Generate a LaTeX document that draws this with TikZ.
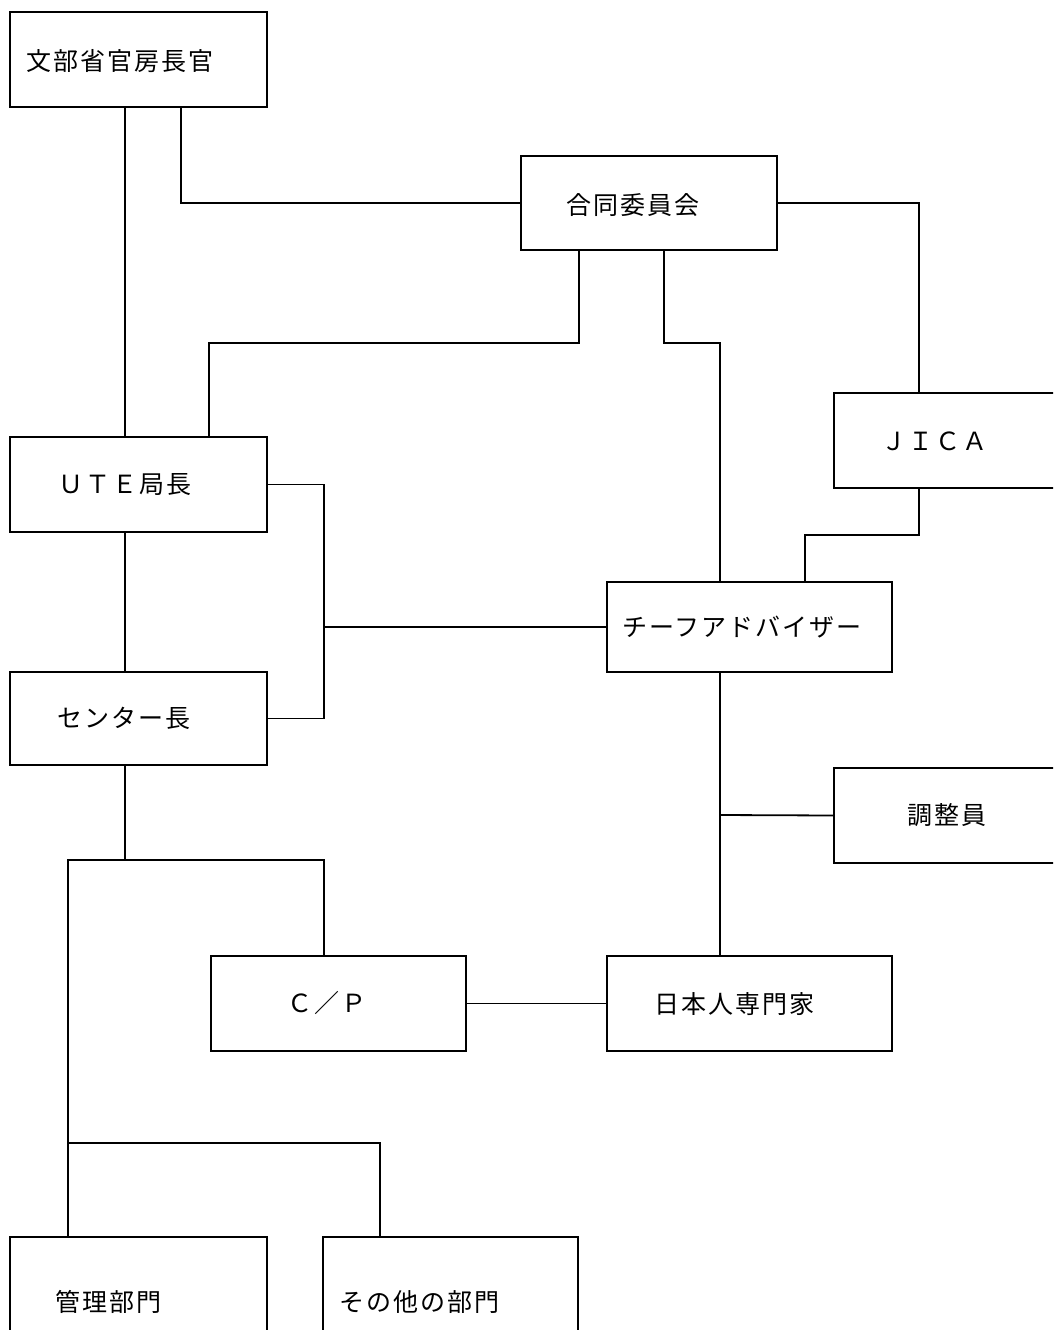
\documentclass[tikz,border=0pt]{standalone}
\usepackage{fontspec}
\newfontfamily\jpfont[LetterSpace=8]{Noto Sans CJK JP}
\begin{document}
\begin{tikzpicture}[x=1pt,y=-1pt,
  box/.style={draw=black,line width=2pt,rectangle,inner sep=0pt,outer sep=0pt},
  lbl/.style={anchor=west,inner sep=0pt,font=\jpfont\fontsize{25}{25}\selectfont},
  link/.style={draw=black,line width=1.8pt,line cap=rect}]
\useasboundingbox (0,0) rectangle (1053,1330);
\fill[white] (0,0) rectangle (1053,1330);
\clip (0,0) rectangle (1053,1330);
% boxes
\node[box,minimum width=257pt,minimum height=95pt] (bunbu)  at (138.5,59.5) {};
\node[box,minimum width=256pt,minimum height=94pt] (godo)   at (649,203) {};
\node[box,minimum width=266pt,minimum height=95pt] (jica)   at (967,440.5) {};
\node[box,minimum width=257pt,minimum height=95pt] (ute)    at (138.5,484.5) {};
\node[box,minimum width=285pt,minimum height=90pt] (chief)  at (749.5,627) {};
\node[box,minimum width=257pt,minimum height=93pt] (center) at (138.5,718.5) {};
\node[box,minimum width=266pt,minimum height=95pt] (chosei) at (967,815.5) {};
\node[box,minimum width=255pt,minimum height=95pt] (cp)     at (338.5,1003.5) {};
\node[box,minimum width=285pt,minimum height=95pt] (jpn)    at (749.5,1003.5) {};
\node[box,minimum width=257pt,minimum height=108pt] (kanri) at (138.5,1291) {};
\node[box,minimum width=255pt,minimum height=108pt] (other) at (450.5,1291) {};
% labels
\node[lbl] (t-bunbu)  at (26,61)    {文部省官房長官};
\node[lbl] (t-godo)   at (566,205)  {合同委員会};
\node[lbl] (t-jica)   at (881,441)  {ＪＩＣＡ};
\node[lbl] (t-ute)    at (58,485)   {ＵＴＥ局長};
\node[lbl] (t-chief)  at (622,627)  {チーフアドバイザー};
\node[lbl] (t-center) at (57,718)   {センター長};
\node[lbl] (t-chosei) at (907,815)  {調整員};
\node[lbl] (t-cp)     at (287,1003) {Ｃ／Ｐ};
\node[lbl] (t-jpn)    at (654,1004) {日本人専門家};
\node[lbl] (t-kanri)  at (55,1302)  {管理部門};
\node[lbl] (t-other)  at (339,1302) {その他の部門};
% junction coordinates
\coordinate (j1) at (579,343);
\coordinate (j2) at (664,343);
\coordinate (j3) at (919,535);
\coordinate (j4) at (324,627);
\coordinate (j5) at (720,815);
\coordinate (j6) at (125,860);
\coordinate (j7) at (68,860);
\coordinate (j8) at (68,1143);
% connectors
\draw[link] (bunbu.south -| 125,0) -- (ute.north -| 125,0);
\draw[link] (bunbu.south -| 181,0) |- (godo.west);
\draw[link] (godo.east) -| (jica.north -| 919,0);
\draw[link] (godo.south -| j1) -- (j1) -| (ute.north -| 209,0);
\draw[link] (godo.south -| j2) -- (j2) -| (chief.north -| 720,0);
\draw[link] (jica.south -| j3) -- (j3) -| (chief.north -| 805,0);
\draw[link] (ute.east) -- (ute.east -| j4) -- (center.east -| j4) -- (center.east);
\draw[link] (j4) -- (chief.west);
\draw[link] (ute.south -| 125,0) -- (center.north -| 125,0);
\draw[link] (chief.south -| j5) -- (jpn.north -| j5);
\draw[link] (j5) -- (chosei.west);
\draw[link] (center.south -| j6) -- (j6);
\draw[link] (j7) -- (j7 -| 324,0) -- (cp.north -| 324,0);
\draw[link] (j7) -- (kanri.north -| j7);
\draw[link] (j8) -- (j8 -| 380,0) -- (other.north -| 380,0);
\draw[link] (cp.east) -- (jpn.west);
\end{tikzpicture}
\end{document}
